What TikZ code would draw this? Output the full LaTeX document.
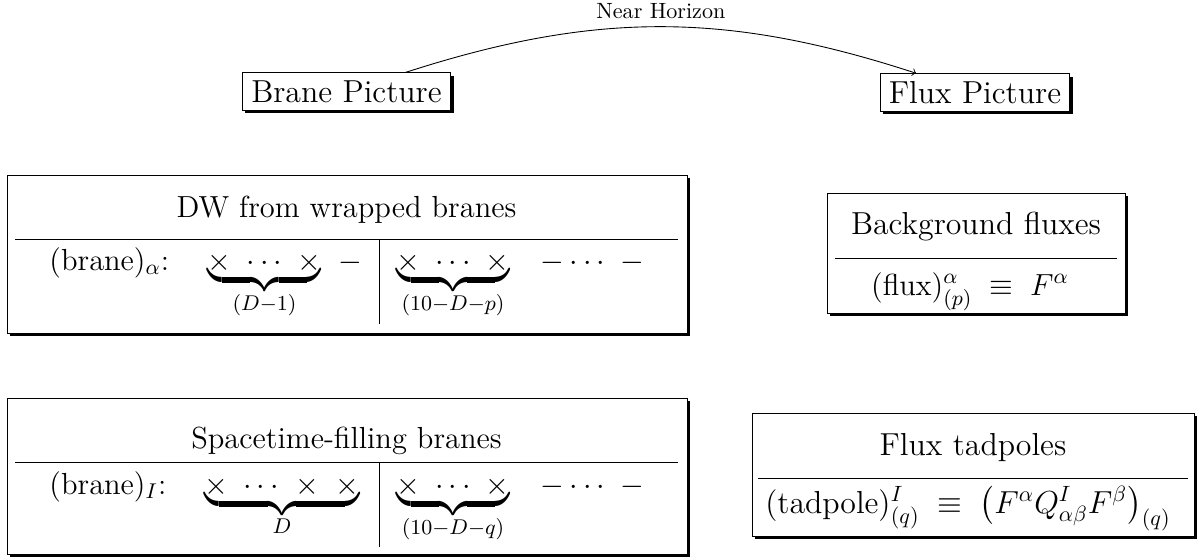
\RequirePackage{fix-cm}
\documentclass[tikz,border=0pt]{standalone}
\usepackage{amsmath}
\usepackage{graphicx}
\usetikzlibrary{shadows,fit}
\newsavebox{\ubrbox}
\newcommand{\ubr}[2]{\sbox{\ubrbox}{$#1$}\mathop{\vtop{\copy\ubrbox\nointerlineskip\kern2.2pt\hbox{\scalebox{1}[1.35]{\hbox to\wd\ubrbox{\upbracefill}}}\kern3.2pt}}\limits_{#2}}
\begin{document}
\begin{tikzpicture}[x=0.4525pt,y=-0.4525pt,
  shadowed/.style={drop shadow={shadow xshift=1.35pt,shadow yshift=-1.35pt,fill=black,opacity=1}},
  panel/.style={draw,line width=0.45pt,fill=white,inner sep=0pt,shadowed},
  lbl/.style={draw,line width=0.45pt,fill=white,font=\Large,inner xsep=4pt,inner ysep=3.4pt,shadowed},
  txt/.style={inner sep=0pt,font=\fontsize{13.8}{16}\selectfont},
  bigtxt/.style={inner sep=0pt,font=\fontsize{14.4}{17}\selectfont},
  rule/.style={line width=0.45pt}]
\useasboundingbox (0,0) rectangle (1198,557);

% top labels and arc
\node[lbl] (brane) at (346.5,91.5) {Brane Picture};
\node[lbl] (flux) at (975,92.5) {Flux Picture};
\draw[->] (brane) to[bend left=18] node[midway,above] (nh) {Near Horizon} (flux);

% DW box
\coordinate (dw1) at (7,175);
\coordinate (dw2) at (687,333);
\node[panel,fit=(dw1)(dw2)] (dw) {};
\node[txt,anchor=base] (dwt) at (346.5,217) {DW from wrapped branes};
\draw[rule] (15,239) -- (678,239);
\draw[rule] (379,239) -- (379,324);
\node[txt,anchor=base west] (dwl) at (49,270) {$(\mathrm{brane})_\alpha$:};
\node[txt,anchor=base] (dwa) at (264.5,270) {$\ubr{\times\ \cdots\ \times}{(D-1)}$};
\node[txt,anchor=base] (dwm) at (350,270) {$-$};
\node[txt,anchor=base] (dwb) at (453,270) {$\ubr{\times\ \cdots\ \times}{(10-D-p)}$};
\node[txt,anchor=base] (dwc) at (592.5,270) {$-\cdots\ -$};

% Spacetime box
\coordinate (st1) at (7,398);
\coordinate (st2) at (687,554);
\node[panel,fit=(st1)(st2)] (st) {};
\node[txt,anchor=base] (stt) at (346.5,448) {Spacetime-filling branes};
\draw[rule] (15,462) -- (678,462);
\draw[rule] (379,462) -- (379,547);
\node[txt,anchor=base west] (stl) at (49,494) {$(\mathrm{brane})_I$:};
\node[txt,anchor=base] (sta) at (282,494) {$\ubr{\times\ \cdots\ \times\ \times}{D}$};
\node[txt,anchor=base] (stb) at (453,494) {$\ubr{\times\ \cdots\ \times}{(10-D-q)}$};
\node[txt,anchor=base] (stc) at (592.5,494) {$-\cdots\ -$};

% Background fluxes
\coordinate (bf1) at (827,193);
\coordinate (bf2) at (1125,313);
\node[panel,fit=(bf1)(bf2)] (bf) {};
\node[bigtxt,anchor=base] (bft) at (976,235) {Background fluxes};
\draw[rule] (835,258) -- (1117,258);
\node[txt,anchor=base] (bfm) at (970,295) {$(\mathrm{flux})^\alpha_{(p)}\;\equiv\;F^\alpha$};

% Flux tadpoles
\coordinate (tp1) at (752,413);
\coordinate (tp2) at (1194,536);
\node[panel,fit=(tp1)(tp2)] (tp) {};
\node[bigtxt,anchor=base] (tpt) at (973,455) {Flux tadpoles};
\draw[rule] (758,478) -- (1188,478);
\node[bigtxt,anchor=base] (tpm) at (968,513) {$(\mathrm{tadpole})^I_{(q)}\;\equiv\;\bigl(F^\alpha Q^I_{\alpha\beta}F^\beta\bigr)_{(q)}$};
\end{tikzpicture}
\end{document}
